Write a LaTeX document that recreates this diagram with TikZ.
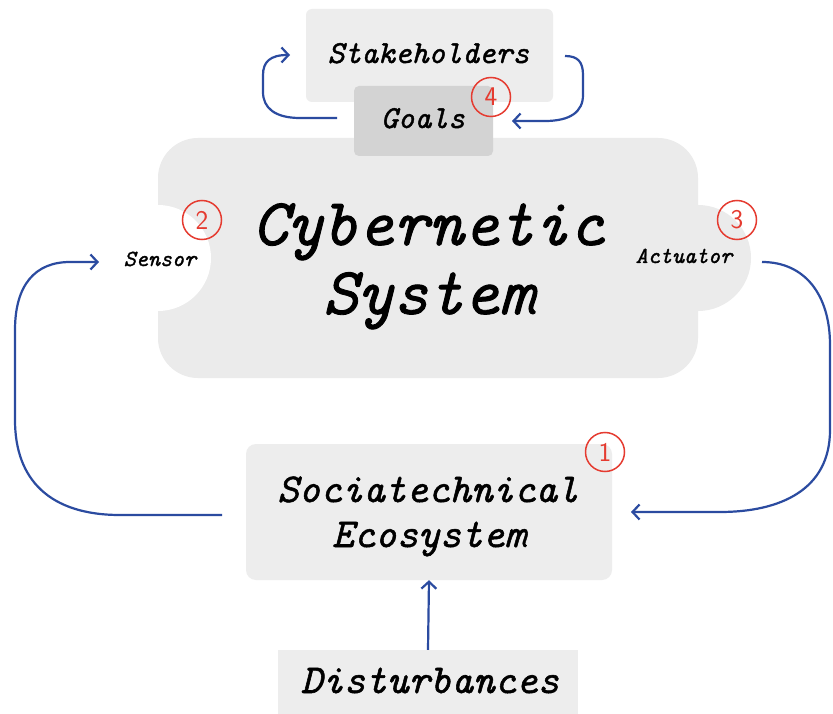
\documentclass[tikz,border=0pt]{standalone}
\usepackage{fontspec}
\newfontfamily\monoit{lmmono10-italic.otf}[FakeBold=1.3]
\usetikzlibrary{arrows.meta}
\definecolor{boxgray}{HTML}{EDEDED}
\definecolor{cybgray}{HTML}{EBEBEB}
\definecolor{goalgray}{HTML}{D3D3D3}
\definecolor{arrowblue}{HTML}{2B4BA0}
\definecolor{numred}{HTML}{E53B30}
\begin{document}
\begin{tikzpicture}[x=1pt,y=-1pt,
  box/.style={fill=boxgray, rounded corners=6pt, inner sep=0pt},
  lbl/.style={anchor=base, inner sep=0pt},
  mono/.style={font=\monoit\fontsize{#1}{#1}\selectfont},
  arr/.style={draw=arrowblue, line width=2.2pt, -{Straight Barb[length=7pt,width=15pt]}},
  num/.style={circle, draw=numred, line width=1.5pt, text=numred,
    font=\sffamily\fontsize{27}{27}\selectfont, minimum size=39pt, inner sep=0pt}]
\fill[white] (0,0) rectangle (833,714);
\useasboundingbox (0,0) rectangle (833,714);

% Stakeholders and goals
\node[box, minimum width=247pt, minimum height=93pt] (stake) at (429.5,55.5) {};
\node[lbl, mono=32] (staketext) at (428.5,63) {Stakeholders};

% Cybernetic system shape
\fill[cybgray, rounded corners=40pt] (158,138) rectangle (698,378);
\fill[cybgray] (698,258) circle (53pt);
\fill[white] (158,258) circle (53pt);

\node[fill=goalgray, rounded corners=5pt, inner sep=0pt, minimum width=139pt, minimum height=70pt] (goals) at (423.5,121) {};
\node[lbl, mono=32] (goalstext) at (423,128) {Goals};

\node[lbl, mono=67] (cyb1) at (428.5,245) {Cybernetic};
\node[lbl, mono=67] (cyb2) at (428.5,314) {System};
\node[lbl, mono=23] (sensor) at (160,266) {Sensor};
\node[lbl, mono=23] (actuator) at (684,263) {Actuator};

% Sociotechnical ecosystem
\node[box, rounded corners=10pt, minimum width=366pt, minimum height=136pt] (socio) at (429,512) {};
\node[lbl, mono=41] (socio1) at (428,502) {Sociatechnical};
\node[lbl, mono=41] (socio2) at (429,547) {Ecosystem};

% Disturbances
\node[fill=boxgray, inner sep=0pt, minimum width=300pt, minimum height=64pt] (dist) at (428,682) {};
\node[lbl, mono=41] (disttext) at (430,693) {Disturbances};

% numbered markers
\node[num] (n1) at (605,452) {1};
\node[num] (n2) at (202,220) {2};
\node[num] (n3) at (737,220) {3};
\node[num] (n4) at (491,97) {4};

% connector end points
\coordinate (goalsout) at (337,118);
\coordinate (stakein) at (290,55);
\coordinate (stakeout) at (565,56);
\coordinate (goalsin) at (512,121);
\coordinate (sociout) at (222,515);
\coordinate (sensorin) at (99,262);
\coordinate (actout) at (762,262);
\coordinate (sociin) at (631,512);

\draw[arr] (goalsout) -- (300,118) .. controls (275,118) and (263,108) .. (263,92) -- (263,75) .. controls (263,62) and (270,55) .. (stakein);
\draw[arr] (stakeout) .. controls (578,56) and (583,62) .. (583,75) -- (583,95) .. controls (583,112) and (570,121) .. (545,121) -- (goalsin);
\draw[arr] (sociout) -- (120,515) .. controls (50,515) and (15,480) .. (15,420) -- (15,330) .. controls (15,285) and (35,262) .. (70,262) -- (sensorin);
\draw[arr] (actout) .. controls (805,262) and (830,295) .. (830,345) -- (830,430) .. controls (830,490) and (780,512) .. (720,512) -- (sociin);
\draw[arr] (dist.north) -- (socio.south);
\end{tikzpicture}
\end{document}
